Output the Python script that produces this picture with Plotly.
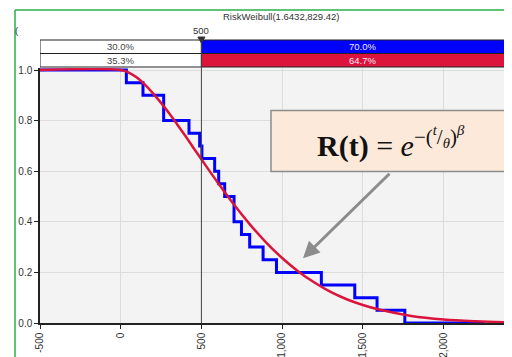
import plotly.graph_objects as go

# ---- data ----
title_text = "RiskWeibull(1.6432,829.42)"
marker_value = 500
left_pcts = ["30.0%", "35.3%"]
right_pcts = ["70.0%", "64.7%"]

# empirical (blue) step curve: time where each step starts, survival level
emp_t = [-500, 35, 138, 266, 423, 489, 503, 582, 607, 644, 702, 748, 799, 882, 965, 1243, 1450, 1588, 1760, 2255]
emp_r = [1.0, 0.95, 0.90, 0.80, 0.75, 0.70, 0.65, 0.60, 0.55, 0.50, 0.40, 0.35, 0.30, 0.25, 0.20, 0.15, 0.10, 0.05, 0.0, 0.0]

# fitted (red) reliability curve read at sample times
fit_t = [-500, 0, 50, 100, 150, 200, 250, 300, 350, 400, 450, 500, 600, 700, 800, 900, 1000,
         1100, 1200, 1300, 1400, 1500, 1600, 1800, 2000, 2200, 2400]
fit_r = [1.0, 1.0, 0.990, 0.970, 0.942, 0.908, 0.870, 0.829, 0.785, 0.740, 0.693, 0.647, 0.556,
         0.469, 0.390, 0.319, 0.257, 0.204, 0.160, 0.123, 0.094, 0.071, 0.053, 0.028, 0.014, 0.007, 0.003]

x_ticks = [-500, 0, 500, 1000, 1500, 2000]
x_tick_labels = ["-500", "0", "500", "1,000", "1,500", "2,000"]
y_ticks = [0.0, 0.2, 0.4, 0.6, 0.8, 1.0]
y_tick_labels = ["0.0", "0.2", "0.4", "0.6", "0.8", "1.0"]

# ---- layout geometry (page pixels; the page body has an 8px margin) ----
OFF = 8
W, H = 512 - OFF, 357 - OFF
ML, MR, MT, MB = 40 - OFF, 0, 68 - OFF, H - (323 - OFF)
PW, PH = W - ML - MR, H - MT - MB


def px(xp):
    return (xp - OFF - ML) / PW


def py(yp):
    return (H - MB - (yp - OFF)) / PH


BLUE = "#0000FF"
RED = "#DC143C"
FONT = "Liberation Sans"

fig = go.Figure()
fig.add_trace(go.Scatter(x=emp_t, y=emp_r, mode="lines", line=dict(color=BLUE, width=3, shape="hv"),
                         hoverinfo="skip", showlegend=False))
fig.add_trace(go.Scatter(x=fit_t, y=fit_r, mode="lines", line=dict(color=RED, width=2.5, shape="spline"),
                         hoverinfo="skip", showlegend=False))

shapes = []
# percentage bars
rows = [(40, 53.5), (53.5, 67)]
for i, (top, bot) in enumerate(rows):
    shapes.append(dict(type="rect", xref="x", yref="paper", x0=-500, x1=marker_value,
                       y0=py(bot), y1=py(top), fillcolor="white", line=dict(color="#222", width=1)))
    shapes.append(dict(type="rect", xref="x", yref="paper", x0=marker_value, x1=2700,
                       y0=py(bot), y1=py(top), fillcolor=BLUE if i == 0 else RED,
                       line=dict(color="#222", width=1)))
# marker line and triangle
shapes.append(dict(type="line", xref="x", yref="paper", x0=marker_value, x1=marker_value,
                   y0=0, y1=py(38), line=dict(color="#444", width=1)))
shapes.append(dict(type="path", xref="x", yref="paper",
                   path=f"M {marker_value-22},{py(37)} L {marker_value+22},{py(37)} L {marker_value},{py(43)} Z",
                   fillcolor="#333", line=dict(color="#333", width=1)))
# green frame
shapes.append(dict(type="line", xref="paper", yref="paper", x0=px(15), x1=px(520), y0=py(10), y1=py(10),
                   line=dict(color="#27B04A", width=1.5)))
shapes.append(dict(type="line", xref="paper", yref="paper", x0=px(15), x1=px(15), y0=py(10), y1=py(360),
                   line=dict(color="#27B04A", width=1.5)))
# formula box
shapes.append(dict(type="rect", xref="paper", yref="paper", x0=px(271), x1=px(513), y0=py(171.5), y1=py(110.5),
                   fillcolor="#FDE9D9", line=dict(color="#8C8C8C", width=1.5), layer="above"))


def label(text, x, y, xref="paper", size=9.5, color="#333", family=FONT):
    return dict(text=text, xref=xref, yref="paper", x=x, y=y, showarrow=False,
                xanchor="center", yanchor="middle", font=dict(family=family, size=size, color=color))


annotations = [
    label(title_text, px(281), py(16)),
    label(str(marker_value), marker_value, py(30), xref="x"),
    label("(", px(17), py(30)),
    label("1", px(510), py(31)),
]
for i, (top, bot) in enumerate(rows):
    yc = py((top + bot) / 2)
    annotations.append(label(left_pcts[i], 0, yc, xref="x", color="#444"))
    annotations.append(label(right_pcts[i], 1500, yc, xref="x", color="#F0E8F8"))
annotations.append(label(
    "<b>R(t)</b> = <i>e</i><sup>−(<sup><i>t</i></sup>/<sub><i>θ</i></sub>)<sup><i>β</i></sup></sup>",
    px(391), py(142), size=30, color="#111", family="Liberation Serif"))
annotations.append(dict(text="", xref="x", yref="y", x=1129, y=0.256, ax=88, ay=-86,
                        showarrow=True, arrowhead=2, arrowsize=1.1, arrowwidth=3, arrowcolor="#8C8C8C",
                        standoff=0))

fig.update_layout(
    width=W, height=H, margin=dict(l=ML, r=MR, t=MT, b=MB, autoexpand=False),
    paper_bgcolor="white", plot_bgcolor="#F3F3F3",
    shapes=shapes, annotations=annotations, showlegend=False,
    xaxis=dict(range=[-500, 2424], tickvals=x_ticks, ticktext=x_tick_labels, tickangle=-90,
               automargin=False,
               showgrid=True, gridcolor="#DCDCDC", gridwidth=1, zeroline=False,
               showline=True, linecolor="#222", linewidth=1.5, ticks="outside", ticklen=4,
               tickcolor="#222", tickfont=dict(family=FONT, size=10, color="#333")),
    yaxis=dict(range=[0, 1.008], tickvals=y_ticks, ticktext=y_tick_labels, automargin=False,
               showgrid=True, gridcolor="#DCDCDC", gridwidth=1, zeroline=False,
               showline=True, linecolor="#222", linewidth=1.5, ticks="outside", ticklen=4,
               tickcolor="#222", tickfont=dict(family=FONT, size=10, color="#333")),
)

fig.write_html("out.html")
